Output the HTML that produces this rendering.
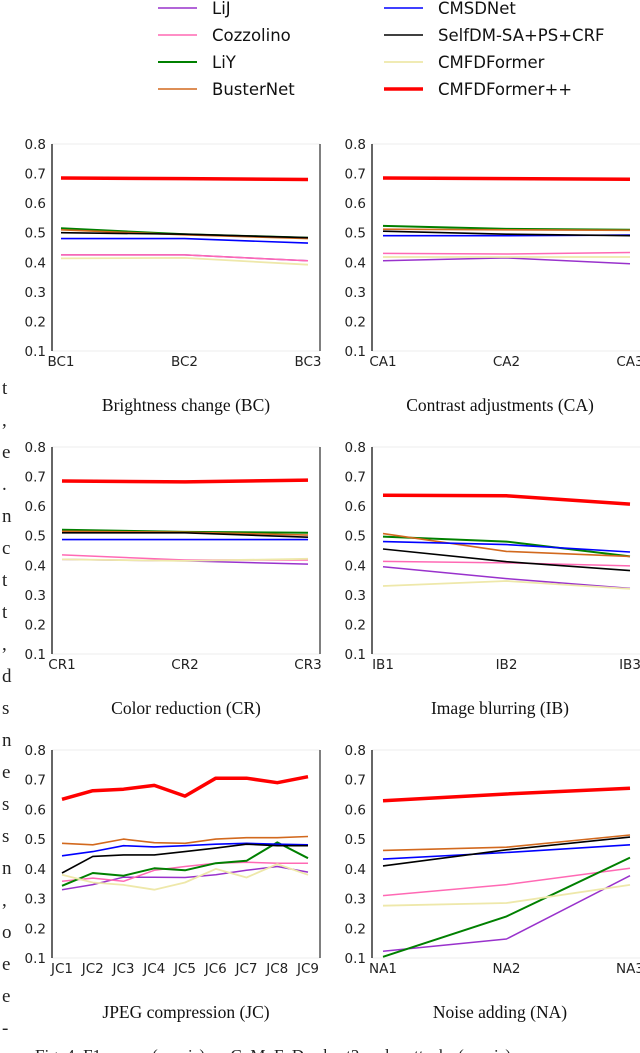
<!DOCTYPE html>
<html><head><meta charset="utf-8"><style>
body{margin:0;width:640px;height:1053px;overflow:hidden;background:#fff;position:relative}
svg{position:absolute;left:0;top:0}
</style></head><body>
<svg id="s" width="640" height="1053"></svg>
<script>
const seriesNames=["LiJ","Cozzolino","LiY","BusterNet","CMSDNet","SelfDM-SA+PS+CRF","CMFDFormer","CMFDFormer++"];
const colors=["#9932cc","#ff69b4","#008000","#d2691e","#0000ff","#000000","#eee8aa","#ff0000"];
const widths=[1.5,1.5,2,1.6,1.6,1.6,1.8,3.5];
const yTicks=[0.1,0.2,0.3,0.4,0.5,0.6,0.7,0.8];
const bcCats=["BC1","BC2","BC3"];
const bcVals=[[.425,.425,.405],[.425,.425,.405],[.515,.495,.483],[.51,.493,.48],[.48,.48,.465],[.50,.495,.483],[.413,.415,.392],[.685,.683,.68]];
const caCats=["CA1","CA2","CA3"];
const caVals=[[.405,.415,.395],[.43,.428,.433],[.523,.513,.51],[.512,.51,.508],[.49,.49,.492],[.505,.495,.49],[.418,.418,.418],[.685,.683,.681]];
const crCats=["CR1","CR2","CR3"];
const crVals=[[.42,.415,.404],[.435,.418,.418],[.52,.513,.51],[.515,.512,.502],[.487,.487,.487],[.51,.51,.495],[.42,.415,.422],[.685,.682,.688]];
const ibCats=["IB1","IB2","IB3"];
const ibVals=[[.395,.355,.322],[.413,.408,.398],[.497,.48,.43],[.507,.447,.43],[.48,.47,.445],[.455,.412,.382],[.33,.347,.32],[.637,.635,.607]];
const jcCats=["JC1","JC2","JC3","JC4","JC5","JC6","JC7","JC8","JC9"];
const jcVals=[[.33,.347,.372,.372,.371,.38,.395,.408,.389],[.358,.369,.358,.395,.408,.419,.422,.419,.419],[.343,.386,.377,.402,.395,.419,.427,.489,.436],[.486,.481,.50,.488,.486,.50,.505,.505,.509],[.444,.458,.478,.474,.478,.483,.486,.483,.481],[.386,.442,.447,.447,.458,.47,.483,.478,.478],[.38,.354,.346,.33,.354,.40,.371,.416,.38],[.634,.663,.668,.681,.645,.705,.705,.69,.71]];
const naCats=["NA1","NA2","NA3"];
const naVals=[[.123,.164,.377],[.31,.347,.402],[.104,.24,.438],[.462,.473,.514],[.433,.455,.481],[.41,.464,.507],[.276,.285,.346],[.629,.652,.671]];
const titles=["Brightness change (BC)","Contrast adjustments (CA)","Color reduction (CR)","Image blurring (IB)","JPEG compression (JC)","Noise adding (NA)"];

const NS="http://www.w3.org/2000/svg";
const svg=document.getElementById('s');
function mk(tag,attrs,parent,text){const e=document.createElementNS(NS,tag);for(const k in attrs)e.setAttribute(k,attrs[k]);if(text!==undefined)e.textContent=text;(parent||svg).appendChild(e);return e;}

seriesNames.forEach((n,i)=>{
  const col=Math.floor(i/4),row=i%4;
  const g=mk('g',{});
  
  
  const lx=col?384:158,ty=8+row*27;
  mk('line',{x1:lx,x2:lx+39,y1:ty,y2:ty,stroke:colors[i],'stroke-width':widths[i]},g);
  mk('text',{x:lx+54,y:ty+6,'font-family':'DejaVu Sans, Liberation Sans, sans-serif','font-size':'16.5',fill:'#111'},g,n);
});

const panels=[
 {cats:bcCats,vals:bcVals,x0:52,x1:320,px0:61,px1:308,top:144,bot:351,spine:true},
 {cats:caCats,vals:caVals,x0:372,x1:640,px0:383,px1:630,top:144,bot:351,spine:false},
 {cats:crCats,vals:crVals,x0:52,x1:320,px0:62,px1:308,top:447,bot:654,spine:true},
 {cats:ibCats,vals:ibVals,x0:372,x1:640,px0:383,px1:630,top:447,bot:654,spine:false},
 {cats:jcCats,vals:jcVals,x0:52,x1:320,px0:62,px1:308,top:750,bot:958,spine:true},
 {cats:naCats,vals:naVals,x0:372,x1:640,px0:383,px1:630,top:750,bot:958,spine:false}
];
panels.forEach((p,pi)=>{
  const g=mk('g',{});
  
  
  const ys=v=>p.bot-(v-0.1)/0.7*(p.bot-p.top);
  const xs=i=>p.px0+i*(p.px1-p.px0)/(p.cats.length-1);
  mk('line',{x1:p.x0,x2:p.x1,y1:p.top,y2:p.top,stroke:'#eee','stroke-width':1},g);
  mk('line',{x1:p.x0,x2:p.x1,y1:p.bot,y2:p.bot,stroke:'#eee','stroke-width':1},g);
  mk('line',{x1:p.x0,x2:p.x0,y1:p.top,y2:p.bot,stroke:'#000','stroke-width':1.2},g);
  if(p.spine)mk('line',{x1:p.x1,x2:p.x1,y1:p.top,y2:p.bot,stroke:'#000','stroke-width':1},g);
  yTicks.forEach(t=>{
    const tx=mk('text',{x:p.x0-6,y:ys(t)+5,'text-anchor':'end','font-family':'DejaVu Sans, sans-serif','font-size':'13.5',fill:'#222'},g,t.toFixed(1));
    
    
  });
  p.cats.forEach((c,i)=>{
    const tx=mk('text',{x:xs(i),y:p.bot+15,'text-anchor':'middle','font-family':'DejaVu Sans, sans-serif','font-size':'13.5',fill:'#222'},g,c);
    
    
  });
  p.vals.forEach((vals,si)=>{
    const d=vals.map((v,i)=>(i?'L':'M')+xs(i).toFixed(1)+' '+ys(v).toFixed(1)).join(' ');
    const path=mk('path',{d:d,fill:'none',stroke:colors[si],'stroke-width':widths[si],'stroke-linejoin':'round'},g);
    
    
  });
  const tt=mk('text',{x:(p.x0+(p.spine?p.x1:628))/2,y:p.bot+60,'text-anchor':'middle','font-family':'Liberation Serif, serif','font-size':'17.5',fill:'#111'},g,titles[pi]);
  
  
});

const frag=["t",",","e",".","n","c","t","t",",","d","s","n","e","s","s","n",",","o","e","e","-"];
frag.forEach((ch,i)=>{
  const t=mk('text',{x:2,y:394+i*32,'font-family':'Liberation Serif, serif','font-size':'19',fill:'#222'},svg,ch);
  
  
});
const cap=mk('text',{x:35,y:1061,'font-family':'Liberation Serif, serif','font-size':'17',fill:'#222'},svg,"Fig. 4.  F1 scores (y-axis) on CoMoFoD subset2 under attacks (x-axis).");


</script>
</body></html>
